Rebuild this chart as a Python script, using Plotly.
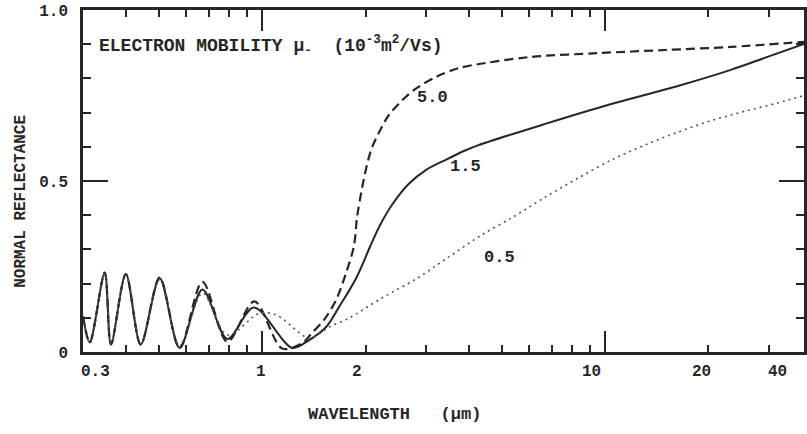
import math
import plotly.graph_objects as go

# ---- data ----
# mobility 5.0 (dashed)
wl_50 = [0.300, 0.314, 0.347, 0.362, 0.400, 0.442, 0.502, 0.574, 0.669, 0.791, 0.948, 1.143,
         1.307, 1.397, 1.514, 1.641, 1.755, 1.850, 1.890, 1.953, 2.020, 2.088, 2.218, 2.340,
         2.553, 2.804, 3.205, 3.739, 4.479, 6.094, 9.544, 14.94, 23.25, 38.0]
r_50 = [0.105, 0.028, 0.232, 0.022, 0.228, 0.022, 0.218, 0.012, 0.205, 0.030, 0.148, 0.010,
        0.026, 0.056, 0.094, 0.152, 0.231, 0.310, 0.395, 0.478, 0.548, 0.597, 0.653, 0.693,
        0.735, 0.770, 0.804, 0.830, 0.845, 0.863, 0.874, 0.883, 0.892, 0.907]

# mobility 1.5 (solid)
wl_15 = [0.300, 0.314, 0.347, 0.362, 0.400, 0.442, 0.502, 0.574, 0.669, 0.791, 0.945, 1.222,
         1.370, 1.535, 1.675, 1.876, 2.060, 2.189, 2.388, 2.675, 2.998, 3.427, 3.918, 4.270,
         6.690, 10.41, 16.30, 23.25, 29.18, 38.0]
r_15 = [0.105, 0.028, 0.232, 0.022, 0.228, 0.022, 0.216, 0.012, 0.183, 0.038, 0.130, 0.012,
        0.035, 0.073, 0.132, 0.215, 0.307, 0.365, 0.430, 0.492, 0.532, 0.562, 0.590, 0.605,
        0.667, 0.725, 0.778, 0.825, 0.860, 0.901]

# mobility 0.5 (dotted)
wl_05 = [0.300, 0.314, 0.347, 0.362, 0.400, 0.442, 0.502, 0.574, 0.669, 0.791, 0.980, 1.100,
         1.255, 1.330, 1.400, 1.566, 1.790, 2.233, 2.804, 3.497, 4.360, 5.330, 6.690, 8.350,
         10.41, 13.07, 16.30, 20.33, 25.53, 31.84, 38.0]
r_05 = [0.105, 0.028, 0.230, 0.024, 0.226, 0.024, 0.212, 0.018, 0.172, 0.050, 0.113, 0.108,
        0.064, 0.045, 0.042, 0.073, 0.099, 0.158, 0.213, 0.278, 0.342, 0.392, 0.453, 0.509,
        0.561, 0.605, 0.643, 0.676, 0.704, 0.728, 0.750]

curve_labels = ["5.0", "1.5", "0.5"]
curve_label_wl = [3.14, 3.92, 4.92]
curve_label_r = [0.743, 0.541, 0.275]

x_tick_vals = [0.3, 1, 2, 10, 20]
x_tick_text = ["0.3", "1", "2", "10", "20"]
x_tick_shift = [12, -1, -9, -14, -7]      # hand-lettered label offsets (px)
x_major_ticks = [1, 10]
x_minor_ticks = [0.4, 0.5, 0.6, 0.7, 0.8, 0.9, 2, 3, 4, 5, 6, 7, 8, 9, 20, 30]
y_tick_vals = [0, 0.5, 1.0]
y_tick_text = ["0", "0.5", "1.0"]

FONT = "Liberation Mono"
INK = "#262626"


def txt(s):
    return "<b>" + s + "</b>"


fig = go.Figure()
fig.add_trace(go.Scatter(x=wl_50, y=r_50, mode="lines",
                         line=dict(color=INK, width=2.2, dash="9px,5px", shape="spline", smoothing=0.9),
                         hoverinfo="skip"))
fig.add_trace(go.Scatter(x=wl_15, y=r_15, mode="lines",
                         line=dict(color=INK, width=2.0, shape="spline", smoothing=0.9),
                         hoverinfo="skip"))
fig.add_trace(go.Scatter(x=wl_05, y=r_05, mode="lines",
                         line=dict(color="#555555", width=1.6, dash="2px,4px", shape="spline", smoothing=0.9),
                         hoverinfo="skip"))
# invisible copy on the overlay axis that carries the long decade ticks
fig.add_trace(go.Scatter(x=wl_15, y=r_15, mode="lines", xaxis="x2", opacity=0,
                         line=dict(width=0), hoverinfo="skip"))

annotations = []
for v, t, s in zip(x_tick_vals, x_tick_text, x_tick_shift):
    annotations.append(dict(x=math.log10(v), y=0, xref="x", yref="paper", text=txt(t),
                            showarrow=False, xshift=s, yshift=-20, yanchor="middle",
                            font=dict(family=FONT, size=16, color=INK)))
annotations.append(dict(x=1, y=0, xref="paper", yref="paper", text=txt("40"), showarrow=False,
                        xshift=-15, yshift=-20, yanchor="middle",
                        font=dict(family=FONT, size=16, color=INK)))
for t, xv, yv in zip(curve_labels, curve_label_wl, curve_label_r):
    annotations.append(dict(x=math.log10(xv), y=yv, xref="x", yref="y", text=txt(t), showarrow=False,
                            font=dict(family=FONT, size=17, color=INK)))
annotations.append(dict(x=0.019, y=0.895, xref="paper", yref="paper", xanchor="left", yanchor="middle",
                        text=txt("ELECTRON MOBILITY \u03bc<sub>-</sub>\u00a0\u00a0(10<sup>-3</sup>m<sup>2</sup>/Vs)"),
                        showarrow=False, font=dict(family=FONT, size=18, color=INK)))
annotations.append(dict(x=0.432, y=-0.184, xref="paper", yref="paper", xanchor="center", yanchor="middle",
                        text=txt("WAVELENGTH\u00a0\u00a0\u00a0(\u03bcm)"), showarrow=False,
                        font=dict(family=FONT, size=17, color=INK)))
annotations.append(dict(x=-0.087, y=0.44, xref="paper", yref="paper", xanchor="center", yanchor="middle",
                        text=txt("NORMAL REFLECTANCE"), textangle=-90, showarrow=False,
                        font=dict(family=FONT, size=16, color=INK)))

xr = [math.log10(0.3), math.log10(38.0)]
fig.update_layout(
    width=807, height=434,
    margin=dict(l=83, r=0, t=10, b=82),
    paper_bgcolor="white", plot_bgcolor="white",
    showlegend=False,
    font=dict(family=FONT, color=INK),
    xaxis=dict(type="log", range=xr, showline=True, linewidth=2.5, linecolor=INK, mirror="ticks",
               ticks="inside", tickvals=x_tick_vals, ticklen=7, tickwidth=1.8, tickcolor=INK,
               showticklabels=False, showgrid=False, zeroline=False,
               minor=dict(tickvals=x_minor_ticks, ticks="inside", ticklen=7, tickwidth=1.8,
                          tickcolor=INK, showgrid=False)),
    xaxis2=dict(type="log", range=xr, overlaying="x", anchor="y", side="bottom",
                showline=False, mirror="ticks", ticks="inside", tickvals=x_major_ticks,
                ticklen=21, tickwidth=1.8, tickcolor=INK, showticklabels=False,
                showgrid=False, zeroline=False),
    yaxis=dict(range=[0, 1], showline=True, linewidth=2.5, linecolor=INK, mirror="ticks",
               ticks="inside", tickvals=y_tick_vals, ticktext=[txt(t) for t in y_tick_text], ticklen=25,
               tickwidth=1.8, tickcolor=INK, ticklabelstandoff=9,
               tickfont=dict(family=FONT, size=16, color=INK),
               showgrid=False, zeroline=False,
               minor=dict(dtick=0.1, ticks="inside", ticklen=8, tickwidth=1.8, tickcolor=INK,
                          showgrid=False)),
    annotations=annotations,
)

fig.write_html("out.html", config={"displayModeBar": False},
               post_script="document.body.style.margin='0px';")
